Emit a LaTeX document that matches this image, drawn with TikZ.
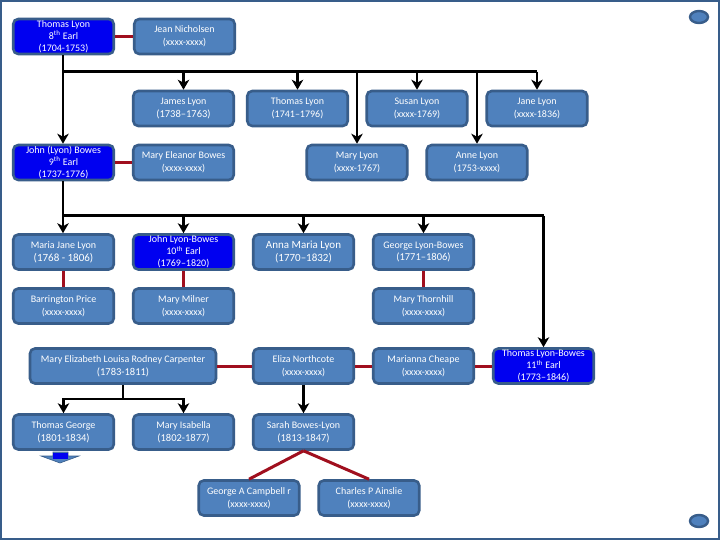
\documentclass[tikz,border=0pt]{standalone}
\usepackage{fontspec}
\setmainfont{Carlito}
\usetikzlibrary{arrows.meta,calc,shapes.geometric}
\definecolor{bfill}{HTML}{4F81BD}
\definecolor{bline}{HTML}{385D8A}
\definecolor{earl}{HTML}{0000F0}
\definecolor{wed}{HTML}{A00F1E}
\newcommand{\thn}{\textsuperscript{th}}
\tikzset{
  person/.style={draw=bline,line width=2.6pt,fill=bfill,rounded corners=5pt,minimum width=100.5pt,minimum height=35pt,inner sep=0pt,align=center,text=white,font=\fontsize{10}{12.8}\selectfont},
  big/.style={font=\fontsize{11}{13}\selectfont},
  earlbox/.style={person,fill=earl,font=\fontsize{10}{12}\selectfont},
  child/.style={draw=black,line width=2.2pt,-{Stealth[length=10pt,width=11.5pt,inset=3pt]}},
  bar/.style={draw=black,line width=3pt},
  trunk/.style={draw=black,line width=2.2pt},
  marry/.style={draw=wed,line width=3pt},
  knob/.style={ellipse,draw=bline,line width=2.4pt,fill=bfill,minimum width=18pt,minimum height=12pt,inner sep=0pt}
}
\begin{document}
\begin{tikzpicture}[x=1pt,y=-1pt]
\useasboundingbox (0,0) rectangle (720,540);
\fill[white] (0,0) rectangle (720,540);
\draw[bline,line width=4pt] (0,0) rectangle (720,540);
\node[knob] (k1) at (699,17) {};
\node[knob] (k2) at (699,521) {};

% first family
\coordinate (b1) at (63,72);
\coordinate (b1e) at (537,72);
\coordinate (b2) at (63,216);
\coordinate (b2e) at (543.5,216);
\coordinate (b3) at (123,399);

\node[earlbox] (tl8) at (63.5,36.5) {Thomas Lyon\\8\thn{} Earl\\(1704-1753)};
\node[person] (jean) at (184.5,36.5) {Jean Nicholsen\\(xxxx-xxxx)};
\node[person] (james) at (183.5,108.5) {James Lyon\\\fontsize{10.5}{13}\selectfont(1738--1763)};
\node[person] (tl) at (297.5,108.5) {Thomas Lyon\\(1741--1796)};
\node[person] (susan) at (417,108.5) {Susan Lyon\\(xxxx-1769)};
\node[person] (jane) at (537,108.5) {Jane Lyon\\(xxxx-1836)};
\node[earlbox] (jb9) at (63.5,162.5) {John (Lyon) Bowes\\9\thn{} Earl\\(1737-1776)};
\node[person] (eleanor) at (183.5,162.5) {Mary Eleanor Bowes\\(xxxx-xxxx)};
\node[person] (mary) at (357,162.5) {Mary Lyon\\(xxxx-1767)};
\node[person] (anne) at (477,162.5) {Anne Lyon\\(1753-xxxx)};

\node[person,big] (maria) at (63.5,252) {\fontsize{10}{13}\selectfont Maria Jane Lyon\\(1768 - 1806)};
\node[earlbox] (jl10) at (183.5,252) {John Lyon-Bowes\\10\thn{} Earl\\(1769--1820)};
\node[person,big] (anna) at (303.5,252) {Anna Maria Lyon\\(1770--1832)};
\node[person] (george) at (423.5,252) {George Lyon-Bowes\\\fontsize{10.5}{13}\selectfont(1771--1806)};
\node[person] (barr) at (63.5,306) {Barrington Price\\(xxxx-xxxx)};
\node[person] (milner) at (183.5,306) {Mary Milner\\(xxxx-xxxx)};
\node[person] (thorn) at (423.5,306) {Mary Thornhill\\(xxxx-xxxx)};

\node[person,minimum width=186pt] (carp) at (123,366) {Mary Elizabeth Louisa Rodney Carpenter\\\fontsize{10.5}{13}\selectfont(1783-1811)};
\node[person] (eliza) at (303.5,366) {Eliza Northcote\\(xxxx-xxxx)};
\node[person] (cheape) at (423.5,366) {Marianna Cheape\\(xxxx-xxxx)};
\node[earlbox] (tl11) at (543.5,366) {Thomas Lyon-Bowes\\11\thn{} Earl\\(1773--1846)};

\node[person,big] (tg) at (63.5,432) {\fontsize{10}{12.8}\selectfont Thomas George\\\fontsize{10.5}{13}\selectfont(1801-1834)};
\node[person] (isa) at (183.5,432) {Mary Isabella\\\fontsize{10.5}{13}\selectfont(1802-1877)};
\node[person] (sarah) at (303.5,432) {Sarah Bowes-Lyon\\\fontsize{10.5}{13}\selectfont(1813-1847)};
\node[person] (camp) at (249,498) {George A Campbell r\\(xxxx-xxxx)};
\node[person] (ains) at (369,498) {Charles P Ainslie\\(xxxx-xxxx)};

% continuation arrow below Thomas George
\fill[bfill,draw=bline,line width=.6pt] (41,456) -- (53,456) -- (53,452) -- (68,452) -- (68,456) -- (79,456) -- (60,463) -- cycle;
\fill[earl] (53,452.5) rectangle (68,459);

\draw[bar] (b1) -- (b1e);
\draw[child] (tl8.south -| b1) -- (jb9.north -| b1);
\draw[child] (james.north |- b1) -- (james.north);
\draw[child] (tl.north |- b1) -- (tl.north);
\draw[child] (susan.north |- b1) -- (susan.north);
\draw[child] (jane.north |- b1) -- (jane.north);
\draw[child] (mary.north |- b1) -- (mary.north);
\draw[child] (anne.north |- b1) -- (anne.north);

% second family
\draw[bar] (b2) -- (b2e);
\draw[child] (jb9.south -| b2) -- (maria.north -| b2);
\draw[child] (jl10.north |- b2) -- (jl10.north);
\draw[child] (anna.north |- b2) -- (anna.north);
\draw[child] (george.north |- b2) -- (george.north);
\draw[child] (tl11.north |- b2) -- (tl11.north);

% third family
\draw[trunk] (carp.south) -- (b3);
\draw[child] (b3) -| (tg.north);
\draw[child] (b3) -| (isa.north);
\draw[child] (eliza.south) -- (sarah.north);

% marriages
\draw[marry] (tl8) -- (jean);
\draw[marry] (jb9) -- (eleanor);
\draw[marry] (maria) -- (barr);
\draw[marry] (jl10) -- (milner);
\draw[marry] (george) -- (thorn);
\draw[marry] (carp) -- (eliza);
\draw[marry] (eliza) -- (cheape);
\draw[marry] (cheape) -- (tl11);
\draw[marry] (sarah.south) -- (camp.north);
\draw[marry] (sarah.south) -- (ains.north);
\end{tikzpicture}
\end{document}
